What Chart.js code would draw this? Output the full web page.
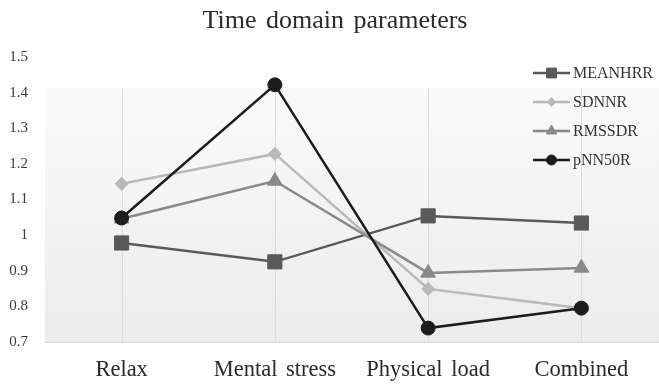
<!DOCTYPE html>
<html>
<head>
<meta charset="utf-8">
<script src="https://cdn.jsdelivr.net/npm/chart.js@4/dist/chart.umd.min.js"></script>
<style>
  html, body { margin: 0; padding: 0; background: #ffffff; }
  #wrap { width: 659px; height: 385px; }
</style>
</head>
<body>
<div id="wrap"><canvas id="c" width="659" height="385"></canvas></div>
<script>
// Ratios of HRV time-domain parameters per condition
const chartTitle = 'Time domain parameters';
const categories = ['Relax', 'Mental stress', 'Physical load', 'Combined'];
const seriesNames = ['MEANHRR', 'SDNNR', 'RMSSDR', 'pNN50R'];
const meanhrr = [0.978, 0.925, 1.054, 1.034];
const sdnnr   = [1.144, 1.228, 0.849, 0.795];
const rmssdr  = [1.046, 1.152, 0.894, 0.908];
const pnn50r  = [1.048, 1.422, 0.739, 0.795];
const yTicks  = [0.7, 0.8, 0.9, 1.0, 1.1, 1.2, 1.3, 1.4, 1.5];

const serif = "'Liberation Serif', 'Times New Roman', serif";

const looks = [
  { color: '#595959', point: 'rect',     radius: 10,  legendRadius: 7,   order: 3 },
  { color: '#b9b9b9', point: 'rectRot',  radius: 6.5, legendRadius: 4.5, order: 2 },
  { color: '#898989', point: 'triangle', radius: 8.5, legendRadius: 6,   order: 1 },
  { color: '#1c1c1c', point: 'circle',   radius: 7,   legendRadius: 5,   order: 0 }
];
const values = [meanhrr, sdnnr, rmssdr, pnn50r];

const datasets = seriesNames.map((name, i) => ({
  label: name,
  data: values[i],
  borderColor: looks[i].color,
  backgroundColor: looks[i].color,
  pointBackgroundColor: looks[i].color,
  pointBorderColor: looks[i].color,
  borderWidth: 2.5,
  pointStyle: looks[i].point,
  pointRadius: looks[i].radius,
  pointHoverRadius: looks[i].radius,
  pointBorderWidth: 1,
  tension: 0,
  clip: false,
  order: looks[i].order
}));

// Shaded plot panel, vertical category guides and the heading
const panelPlugin = {
  id: 'panel',
  beforeDraw(chart) {
    const { ctx, chartArea: a, scales: { x } } = chart;
    ctx.wordSpacing = '3px';
    const top = a.top + (a.bottom - a.top) * 0.11;
    ctx.save();
    const g = ctx.createLinearGradient(0, top, 0, a.bottom);
    g.addColorStop(0, '#fafafa');
    g.addColorStop(1, '#ececec');
    ctx.fillStyle = g;
    ctx.fillRect(a.left, top, chart.width - a.left, a.bottom - top);
    ctx.strokeStyle = '#dcdcdc';
    ctx.lineWidth = 1;
    categories.forEach((_, i) => {
      const px = Math.round(x.getPixelForTick(i)) + 0.5;
      ctx.beginPath();
      ctx.moveTo(px, top);
      ctx.lineTo(px, a.bottom);
      ctx.stroke();
    });
    ctx.fillStyle = '#2a2a2a';
    ctx.font = '26px ' + serif;
    ctx.textAlign = 'center';
    ctx.textBaseline = 'middle';
    ctx.fillText(chartTitle, 335, 21);
    ctx.restore();
  }
};

// Line-and-marker legend at the upper right
const legendPlugin = {
  id: 'lineLegend',
  afterDraw(chart) {
    const { ctx } = chart;
    ctx.save();
    seriesNames.forEach((name, i) => {
      const yy = 73 + i * 29;
      ctx.strokeStyle = looks[i].color;
      ctx.lineWidth = 2.5;
      ctx.beginPath();
      ctx.moveTo(533, yy);
      ctx.lineTo(570, yy);
      ctx.stroke();
      ctx.fillStyle = looks[i].color;
      ctx.lineWidth = 1;
      Chart.helpers.drawPoint(ctx, {
        pointStyle: looks[i].point,
        radius: looks[i].legendRadius,
        borderWidth: 1,
        rotation: 0
      }, 551.5, yy);
      ctx.fillStyle = '#333333';
      ctx.font = '16px ' + serif;
      ctx.textAlign = 'left';
      ctx.textBaseline = 'middle';
      ctx.fillText(name, 573, yy + 1);
    });
    ctx.restore();
  }
};

new Chart(document.getElementById('c'), {
  type: 'line',
  data: { labels: categories, datasets },
  options: {
    responsive: false,
    animation: false,
    layout: { autoPadding: false, padding: { top: 57, right: 1, bottom: 0, left: 0 } },
    plugins: {
      legend: { display: false },
      tooltip: { enabled: false },
      title: { display: false }
    },
    scales: {
      x: {
        offset: true,
        afterFit(scale) {
          scale.height = 43;
          scale.paddingLeft = 0;
          scale.paddingRight = 0;
        },
        grid: { display: false, drawTicks: false },
        border: { display: true, color: '#d9d9d9', width: 1 },
        ticks: {
          color: '#2a2a2a',
          font: { family: serif, size: 22.5 },
          padding: 15,
          maxRotation: 0,
          autoSkip: false
        }
      },
      y: {
        min: yTicks[0],
        max: yTicks[yTicks.length - 1],
        afterFit(scale) { scale.width = 45; },
        afterBuildTicks(scale) { scale.ticks = yTicks.map(v => ({ value: v })); },
        grid: { display: false, drawTicks: false },
        border: { display: false },
        ticks: {
          color: '#3a3a3a',
          font: { family: serif, size: 15 },
          padding: 17,
          callback: v => String(Number(v.toFixed(1)))
        }
      }
    }
  },
  plugins: [panelPlugin, legendPlugin]
});
</script>
</body>
</html>
